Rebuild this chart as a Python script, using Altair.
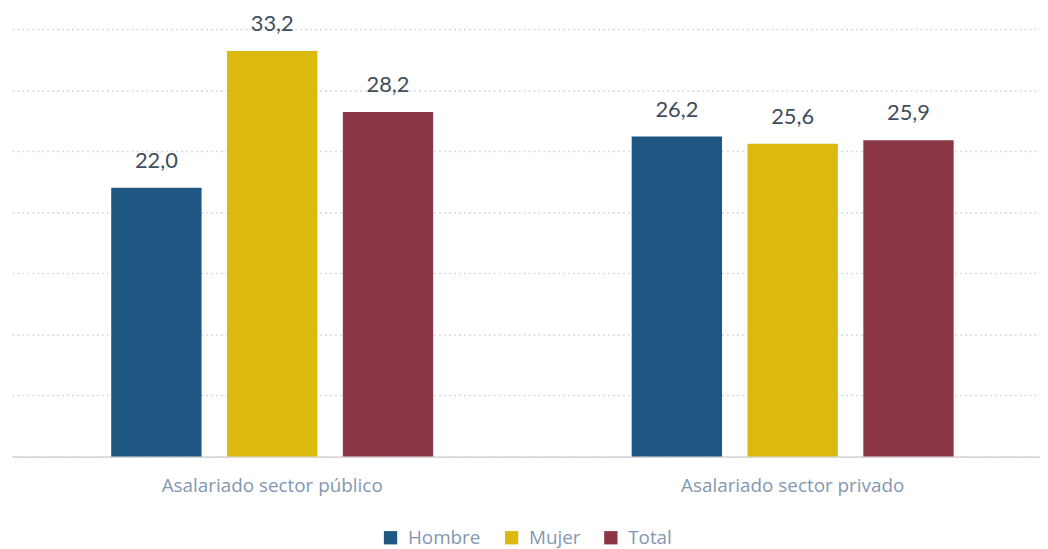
import altair as alt
import pandas as pd

categories = ["Asalariado sector público", "Asalariado sector privado"]
series = ["Hombre", "Mujer", "Total"]
hombre = [22.0, 26.2]
mujer = [33.2, 25.6]
total = [28.2, 25.9]
colors = ["#1f5783", "#dcb90f", "#8b3745"]

rows = []
for i, c in enumerate(categories):
    for s, vals in zip(series, [hombre, mujer, total]):
        rows.append({"cat": c, "serie": s, "valor": vals[i],
                     "label": f"{vals[i]:.1f}".replace(".", ",")})
df = pd.DataFrame(rows)

font = "Lato"
font2 = "Open Sans"

x = alt.X("cat:N", sort=categories, title=None,
          scale=alt.Scale(paddingInner=0, paddingOuter=0, range=[2, 1051]),
          axis=alt.Axis(labelAngle=0, labelFontSize=19, labelColor="#8497b0",
                        labelFont=font2, labelPadding=20, ticks=False, labelLimit=0,
                        domainColor="#d9d9d9", domainWidth=2))
xo = alt.XOffset("serie:N", sort=series,
                 scale=alt.Scale(paddingInner=0.22, paddingOuter=0.857))
y = alt.Y("valor:Q", title=None,
          scale=alt.Scale(domain=[0, 35], nice=False),
          axis=alt.Axis(values=[0, 5, 10, 15, 20, 25, 30, 35], labels=False,
                        ticks=False, domain=False, grid=True,
                        gridColor="#d3dae3", gridDash=[2, 3], gridWidth=1.5))

base = alt.Chart(df)
bars = base.mark_bar().encode(
    x=x, xOffset=xo, y=y,
    color=alt.Color("serie:N", sort=series,
                    scale=alt.Scale(domain=series, range=colors),
                    legend=alt.Legend(title=None, orient="none", direction="horizontal",
                                      legendX=374, legendY=503,
                                      symbolType="square", symbolSize=180,
                                      symbolStrokeWidth=0,
                                      labelFontSize=19, labelColor="#8497b0",
                                      labelFont=font2, columnPadding=21,
                                      labelOffset=8)),
)
text = base.mark_text(baseline="bottom", dy=-15, fontSize=22, color="#404d5a",
                      font=font).encode(
    x=alt.X("cat:N", sort=categories), xOffset=xo, y="valor:Q", text="label:N")

chart = (bars + text).properties(
    width=1038, height=431,
    autosize=alt.AutoSizeParams(type="none"),
    padding={"left": 2, "top": 19, "right": 0, "bottom": 92},
).configure(background="white").configure_view(stroke=None)

chart.save("out.html", embed_options={"renderer": "svg", "actions": False})
